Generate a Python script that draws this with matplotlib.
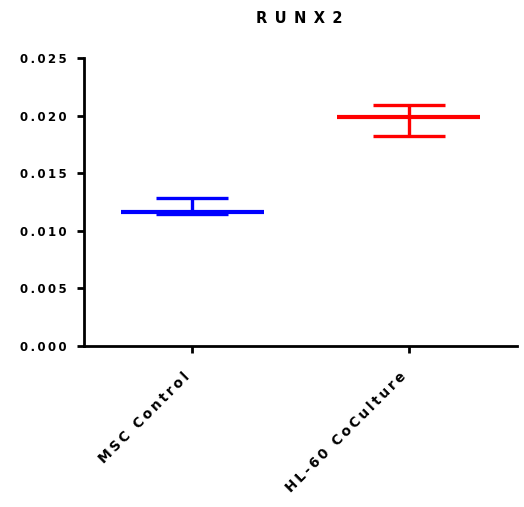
import numpy as np
import matplotlib.pyplot as plt
from matplotlib.transforms import ScaledTranslation

# RUNX2 expression, mean +/- SEM per group
groups = ["MSC Control", "HL-60 CoCulture"]
means = [0.01166, 0.01985]
err_low = [0.00023, 0.00162]
err_high = [0.00116, 0.00104]
colors = ["#0000ff", "#ff0000"]
yticks = [0.000, 0.005, 0.010, 0.015, 0.020, 0.025]

plt.rcParams["font.family"] = ["DejaVu Sans"]
plt.rcParams["font.weight"] = "bold"


def spaced(s, sep="\u2009"):
    # Prism-style wide letter spacing
    return sep.join(s)


fig = plt.figure(figsize=(5.24, 5.07), dpi=100)
ax = fig.add_axes([0.160, 0.3176, 0.827, 0.568])

x = np.arange(len(groups))
for xi, m, lo, hi, c in zip(x, means, err_low, err_high, colors):
    ax.hlines(m, xi - 0.33, xi + 0.33, color=c, lw=3.0)
    ax.errorbar(xi, m, yerr=[[lo], [hi]], fmt="none", ecolor=c,
                elinewidth=2.4, capsize=26, capthick=2.4)

ax.set_xlim(-0.5, 1.5)
ax.set_ylim(0, 0.025)
ax.set_yticks(yticks)
ax.set_yticklabels([spaced(f"{v:.3f}") for v in yticks], fontsize=8.5,
                   fontweight="bold")
ax.set_xticks(x)
ax.set_xticklabels([spaced(g) for g in groups], rotation=45, ha="right",
                   va="top", rotation_mode="anchor", fontsize=9.8,
                   fontweight="bold")

for s in ["top", "right"]:
    ax.spines[s].set_visible(False)
for s in ["left", "bottom"]:
    ax.spines[s].set_linewidth(2.0)
ax.tick_params(axis="both", width=2.0, length=5, direction="out")
ax.tick_params(axis="y", pad=7.5)
ax.tick_params(axis="x", pad=12)

# nudge rotated labels left so their ends sit under the ticks
shift = ScaledTranslation(-0.10, 0, fig.dpi_scale_trans)
for lab in ax.get_xticklabels():
    lab.set_transform(lab.get_transform() + shift)

fig.text(0.572, 0.963, spaced("RUNX2", "\u2002"), ha="center", va="center",
         fontsize=10.5, fontweight="bold")

fig.savefig("out.png", dpi=100)
